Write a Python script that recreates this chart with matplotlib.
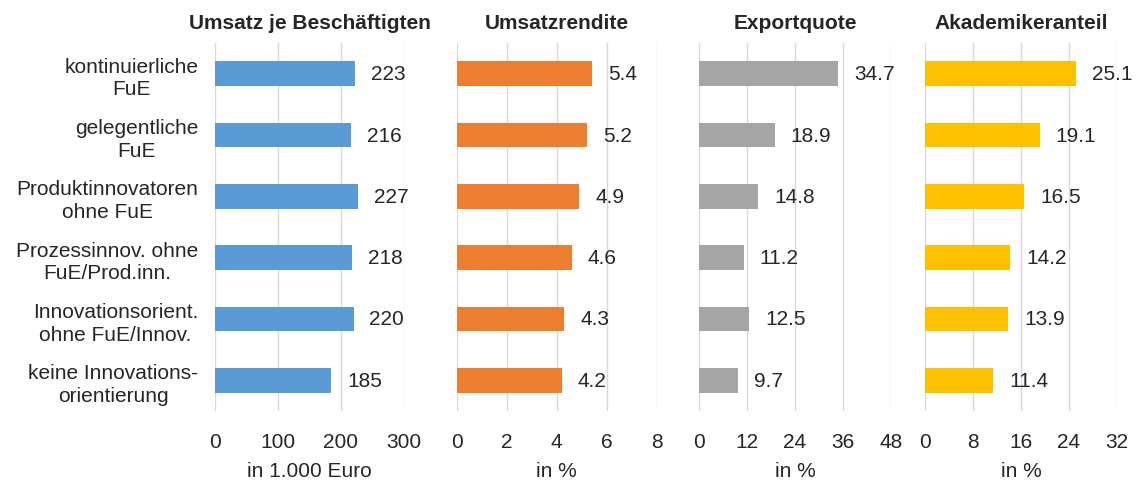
import numpy as np
import matplotlib
matplotlib.use("Agg")
import matplotlib.pyplot as plt

plt.rcParams['font.family'] = ['Liberation Sans', 'DejaVu Sans']

categories = ["kontinuierliche\nFuE", "gelegentliche\nFuE", "Produktinnovatoren\nohne FuE",
              "Prozessinnov. ohne\nFuE/Prod.inn.", "Innovationsorient.\nohne FuE/Innov.",
              "keine Innovations-\norientierung"]
umsatz = [223, 216, 227, 218, 220, 185]
rendite = [5.4, 5.2, 4.9, 4.6, 4.3, 4.2]
export = [34.7, 18.9, 14.8, 11.2, 12.5, 9.7]
akademiker = [25.1, 19.1, 16.5, 14.2, 13.9, 11.4]

titles = ["Umsatz je Beschäftigten", "Umsatzrendite", "Exportquote", "Akademikeranteil"]
xlabels = ["in 1.000 Euro", "in %", "in %", "in %"]
series = [umsatz, rendite, export, akademiker]
ticks = [[0, 100, 200, 300], [0, 2, 4, 6, 8], [0, 12, 24, 36, 48], [0, 8, 16, 24, 32]]
colors = ["#5B9BD5", "#ED7D31", "#A5A5A5", "#FFC000"]
fmts = ["{:.0f}", "{:.1f}", "{:.1f}", "{:.1f}"]

fig = plt.figure(figsize=(11.41, 4.81), dpi=100)
lefts = [0.1884, 0.4003, 0.6126, 0.8107]
widths = [0.1656, 0.1753, 0.1683, 0.1683]
bottom, height = 0.1435, 0.765
fs = 15

y = np.arange(len(categories))
for i in range(4):
    ax = fig.add_axes([lefts[i], bottom, widths[i], height])
    vals = series[i]
    ax.barh(y, vals, height=0.4, color=colors[i], zorder=2)
    ax.set_xlim(ticks[i][0], ticks[i][-1])
    ax.set_ylim(len(categories) - 0.5, -0.5)
    ax.set_xticks(ticks[i])
    ax.set_xticklabels([str(t) for t in ticks[i]], fontsize=fs, color="#262626")
    ax.tick_params(axis='x', length=0, pad=15)
    ax.tick_params(axis='y', length=0)
    ax.grid(axis='x', color="#D9D9D9", linewidth=1, zorder=0)
    for s in ax.spines.values():
        s.set_visible(False)
    for j, v in enumerate(vals):
        ax.annotate(fmts[i].format(v), (v, j), xytext=(11.5, 0), textcoords='offset points',
                    va='center', ha='left', fontsize=fs, color="#262626")
    ax.set_title(titles[i], fontsize=fs, fontweight='bold', color="#262626", pad=11)
    ax.set_xlabel(xlabels[i], fontsize=fs, color="#262626", labelpad=7)
    if i == 0:
        ax.set_yticks(y)
        ax.set_yticklabels(categories, fontsize=fs, color="#262626",
                           multialignment='center', linespacing=1.25)
        ax.tick_params(axis='y', pad=12)
    else:
        ax.set_yticks([])

fig.savefig("out.png", dpi=100)
